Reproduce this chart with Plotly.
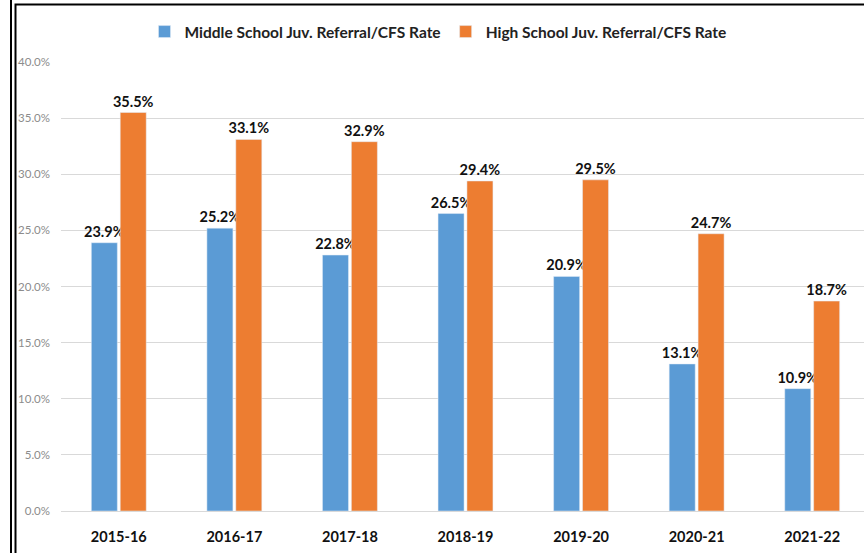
import plotly.graph_objects as go

years = ["2015-16", "2016-17", "2017-18", "2018-19", "2019-20", "2020-21", "2021-22"]
middle_school = [23.9, 25.2, 22.8, 26.5, 20.9, 13.1, 10.9]
high_school = [35.5, 33.1, 32.9, 29.4, 29.5, 24.7, 18.7]
y_ticks = [0, 5, 10, 15, 20, 25, 30, 35, 40]

FONT = "Lato"
W, H = 872, 553
L, R, T, B = 61, 2, 62, 42
pw, ph = W - L - R, H - T - B

def px(x):
    return (x - L) / pw

def py(y):
    return (H - B - y) / ph

label_font = dict(family=FONT, size=14.5, color="#111111", weight="bold")

fig = go.Figure()
fig.add_trace(go.Bar(
    x=years, y=middle_school, name="Middle School Juv. Referral/CFS Rate",
    marker_color="#5B9BD5", texttemplate="%{y:.1f}%", textposition="outside",
    textfont=label_font, constraintext="none", cliponaxis=False,
))
fig.add_trace(go.Bar(
    x=years, y=high_school, name="High School Juv. Referral/CFS Rate",
    marker_color="#ED7D31", texttemplate="%{y:.1f}%", textposition="outside",
    textfont=label_font, constraintext="none", cliponaxis=False,
))

fig.update_layout(
    width=W, height=H,
    margin=dict(l=L, r=R, t=T, b=B),
    paper_bgcolor="white", plot_bgcolor="white",
    barmode="group", bargap=0.5, bargroupgap=0.1,
    font=dict(family=FONT),
    legend=dict(orientation="h", x=px(438), xanchor="center", y=py(32), yanchor="middle",
                font=dict(family=FONT, size=15.5, color="#222222", weight="bold"),
                itemwidth=30, tracegroupgap=0),
    xaxis=dict(showgrid=False, showline=False, ticks="", ticklabelstandoff=15,
               tickfont=dict(family=FONT, size=14.5, color="#111111", weight="bold")),
    yaxis=dict(range=[0, 40], tickvals=y_ticks,
               ticktext=[f"{v:.1f}%" for v in y_ticks],
               showgrid=True, gridcolor="#D9D9D9", gridwidth=1,
               zeroline=True, zerolinecolor="#D9D9D9", zerolinewidth=1,
               tickfont=dict(family=FONT, size=11.5, color="#8C8C8C"), ticklabelstandoff=10),
    showlegend=True,
)

# frame lines
fig.add_shape(type="line", xref="paper", yref="paper", x0=px(11), x1=px(11), y0=py(0), y1=py(H + 5),
              line=dict(color="black", width=2))
fig.add_shape(type="rect", xref="paper", yref="paper", x0=px(15.5), x1=px(W + 10), y0=py(4.5), y1=py(H + 10),
              line=dict(color="black", width=2), fillcolor="rgba(0,0,0,0)")

fig.write_html("out.html", config={"displayModeBar": False},
               post_script="document.body.style.margin='0';document.body.style.overflow='hidden';")
